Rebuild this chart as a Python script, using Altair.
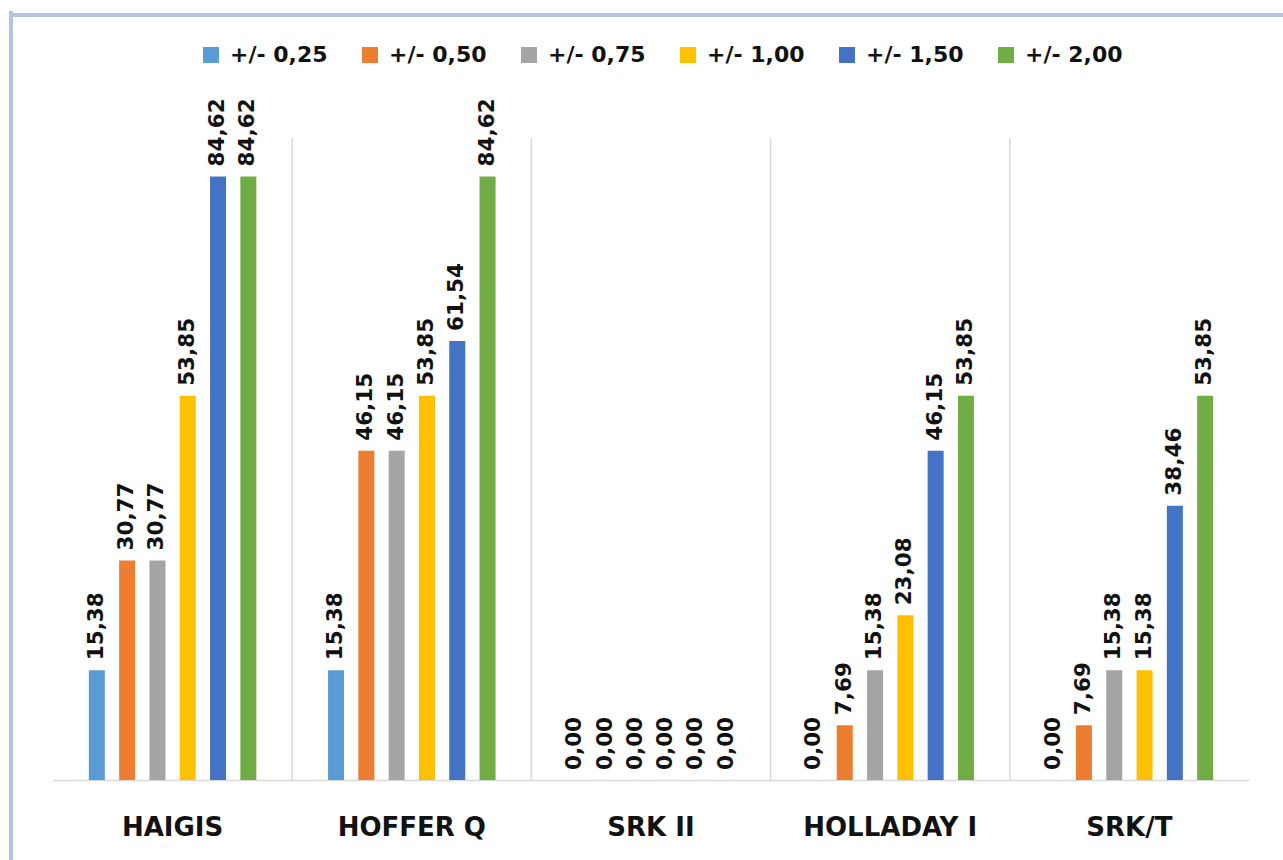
import altair as alt
import pandas as pd

categories = ["HAIGIS", "HOFFER Q", "SRK II", "HOLLADAY I", "SRK/T"]
series = ["+/- 0,25", "+/- 0,50", "+/- 0,75", "+/- 1,00", "+/- 1,50", "+/- 2,00"]
colors = ["#5B9BD5", "#ED7D31", "#A5A5A5", "#FFC000", "#4472C4", "#70AD47"]

v025 = [15.38, 15.38, 0.00, 0.00, 0.00]
v050 = [30.77, 46.15, 0.00, 7.69, 7.69]
v075 = [30.77, 46.15, 0.00, 15.38, 15.38]
v100 = [53.85, 53.85, 0.00, 23.08, 15.38]
v150 = [84.62, 61.54, 0.00, 46.15, 38.46]
v200 = [84.62, 84.62, 0.00, 53.85, 53.85]
values = [v025, v050, v075, v100, v150, v200]

rows = []
for s, vals in zip(series, values):
    for c, v in zip(categories, vals):
        rows.append({"cat": c, "series": s, "value": v,
                     "label": f"{v:.2f}".replace(".", ",")})
df = pd.DataFrame(rows)
sep_df = pd.DataFrame({"cat": categories[1:]})

FONT = "DejaVu Sans"

x_scale = alt.Scale(domain=categories, paddingInner=0, paddingOuter=0)
x_axis = alt.Axis(title=None, labelAngle=0, labelAlign="center", bandPosition=0.5,
                  ticks=False, domain=True,
                  domainColor="#d9d9d9", domainWidth=1.5,
                  labelFont=FONT, labelFontWeight="bold",
                  labelFontSize=26, labelColor="#111111",
                  labelPadding=34, grid=False)
x_enc = alt.X("cat:N", sort=categories, scale=x_scale, axis=x_axis)
xo_enc = alt.XOffset("series:N", sort=series,
                     scale=alt.Scale(domain=series, paddingInner=0.106, paddingOuter=1))
y_enc = alt.Y("value:Q", scale=alt.Scale(domain=[0, 90], nice=False, zero=True), axis=None)

bars = alt.Chart(df).mark_bar(width=16).encode(
    x=x_enc,
    xOffset=xo_enc,
    y=y_enc,
    color=alt.Color("series:N", sort=series,
                    scale=alt.Scale(domain=series, range=colors),
                    legend=alt.Legend(title=None, orient="none", direction="horizontal",
                                      columns=6, legendX=147, legendY=-94,
                                      symbolType="square", symbolSize=256,
                                      symbolStrokeWidth=0, labelOffset=8,
                                      labelFont=FONT, labelFontWeight="bold",
                                      labelFontSize=22, labelColor="#111111",
                                      columnPadding=31, padding=0)),
)

seps = alt.Chart(sep_df).mark_rule(color="#d9d9d9", strokeWidth=1.5).encode(
    x=alt.X("cat:N", sort=categories, bandPosition=0, scale=x_scale, axis=x_axis)
)

texts = alt.Chart(df).mark_text(angle=270, align="left", baseline="middle", dx=10,
                                font=FONT, fontWeight="bold", fontSize=21.5,
                                color="#111111").encode(
    x=alt.X("cat:N", sort=categories),
    xOffset=alt.XOffset("series:N", sort=series),
    y=alt.Y("value:Q"),
    text="label:N",
)

frame_left = alt.Chart(pd.DataFrame({"a": [0]})).mark_rule(
    color="#b4c2e4", strokeWidth=4).encode(
    x=alt.value(-42), y=alt.value(-127), y2=alt.value(730))
frame_top = alt.Chart(pd.DataFrame({"a": [0]})).mark_rule(
    color="#b4c2e4", strokeWidth=4).encode(
    x=alt.value(-44), x2=alt.value(1240), y=alt.value(-123))

chart = alt.layer(bars, seps, texts, frame_left, frame_top).properties(
    width=1196, height=642,
    autosize=alt.AutoSizeParams(type="none"),
    padding={"left": 53, "top": 138, "right": 34, "bottom": 80},
    background="white",
).configure_view(stroke=None)

chart.save("out.html", embed_options={"renderer": "svg", "actions": False})
